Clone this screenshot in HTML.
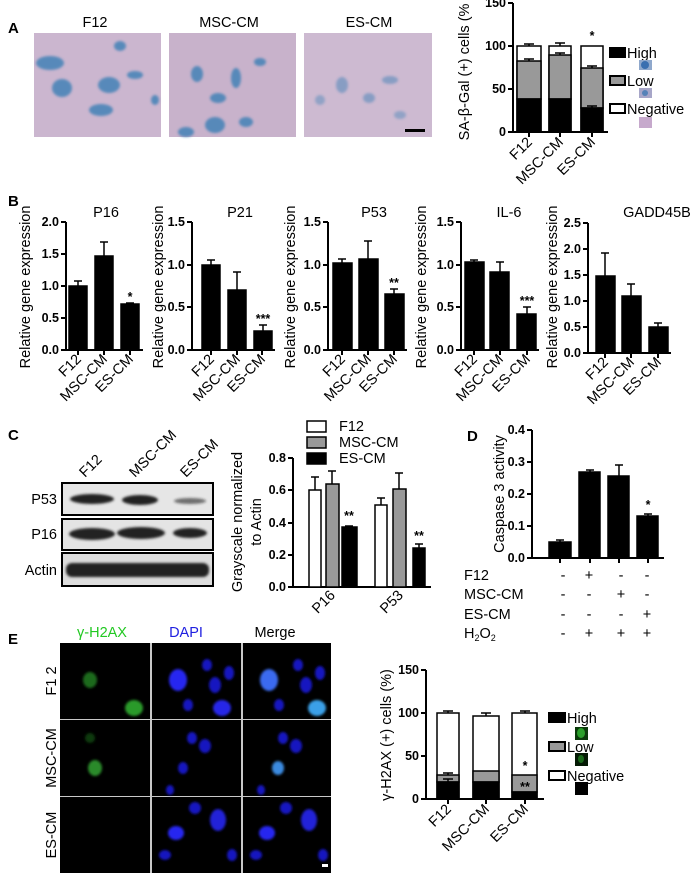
<!DOCTYPE html>
<html><head><meta charset="utf-8"><style>
body{margin:0;background:#fff}
svg{display:block;font-family:"Liberation Sans",Arial,sans-serif}
.t{font-size:12.5px;font-weight:bold}
.l{font-size:14.5px}
.p{font-size:15px;font-weight:bold}
</style></head><body>
<svg width="692" height="873" viewBox="0 0 692 873" xmlns="http://www.w3.org/2000/svg">
<defs>
<filter id="bl"><feGaussianBlur stdDeviation="1.2"/></filter>
</defs>
<!-- Panel A -->
<text class="p" x="8" y="33">A</text>
<text class="l" x="95" y="27" text-anchor="middle">F12</text>
<text class="l" x="229" y="27" text-anchor="middle">MSC-CM</text>
<text class="l" x="369" y="27" text-anchor="middle">ES-CM</text>
<rect x="34" y="33" width="127" height="104" fill="#cbb6cf"/>
<rect x="169" y="33" width="127" height="104" fill="#c8b2cb"/>
<rect x="304" y="33" width="128" height="104" fill="#cdbad1"/>
<g filter="url(#bl)" fill="#3a7fb5" opacity="0.8">
<ellipse cx="50" cy="63" rx="14" ry="7"/><ellipse cx="62" cy="88" rx="10" ry="9"/><ellipse cx="109" cy="85" rx="11" ry="8"/><ellipse cx="120" cy="46" rx="6" ry="5"/><ellipse cx="101" cy="110" rx="12" ry="6"/><ellipse cx="135" cy="75" rx="8" ry="4"/><ellipse cx="155" cy="100" rx="4" ry="5"/>
<ellipse cx="197" cy="74" rx="6" ry="8"/><ellipse cx="218" cy="98" rx="8" ry="5"/><ellipse cx="236" cy="78" rx="5" ry="10"/><ellipse cx="215" cy="125" rx="10" ry="8"/><ellipse cx="186" cy="132" rx="8" ry="5"/><ellipse cx="260" cy="62" rx="6" ry="4"/><ellipse cx="246" cy="122" rx="7" ry="5"/>
<ellipse cx="342" cy="85" rx="6" ry="8" opacity="0.6"/><ellipse cx="369" cy="98" rx="6" ry="5" opacity="0.6"/><ellipse cx="390" cy="80" rx="8" ry="4" opacity="0.6"/><ellipse cx="320" cy="100" rx="5" ry="5" opacity="0.5"/><ellipse cx="400" cy="115" rx="6" ry="4" opacity="0.5"/>
</g>
<rect x="405" y="129" width="20" height="3" fill="#000"/>
<!-- A chart -->
<g stroke="#000" stroke-width="2" fill="none">
<path d="M513 3V132H608"/>
<path d="M508 3H513M508 46H513M508 89H513M508 132H513M529 132v5M560 132v5M592 132v5"/>
</g>
<g class="t" text-anchor="end"><text x="506" y="7">150</text><text x="506" y="50">100</text><text x="506" y="93">50</text><text x="506" y="136">0</text></g>
<text class="l" transform="translate(469,72) rotate(-90)" text-anchor="middle">SA-β-Gal (+) cells (%</text>
<g stroke="#000" stroke-width="1.5">
<rect x="517" y="46" width="24" height="86" fill="#fff"/><rect x="517" y="61" width="24" height="38" fill="#999"/><rect x="517" y="99" width="24" height="33" fill="#000"/>
<rect x="549" y="46" width="22" height="86" fill="#fff"/><rect x="549" y="55" width="22" height="44" fill="#999"/><rect x="549" y="99" width="22" height="33" fill="#000"/>
<rect x="581" y="46" width="22" height="86" fill="#fff"/><rect x="581" y="68" width="22" height="40" fill="#999"/><rect x="581" y="108" width="22" height="24" fill="#000"/>
<path d="M529 44v2M524 44h10M560 43v3M555 43h10M529 59v2M524 59h10M560 53v2M555 53h10M592 66v2M587 66h10M592 106v2M587 106h10" fill="none"/>
</g>
<text class="t" x="592" y="40" text-anchor="middle">*</text>
<g stroke="#000" stroke-width="2"><rect x="610" y="48" width="15" height="9" fill="#000"/><rect x="610" y="76" width="15" height="9" fill="#999"/><rect x="610" y="104" width="15" height="9" fill="#fff"/></g>
<g class="l"><text x="627" y="58">High</text><text x="627" y="86">Low</text><text x="627" y="114">Negative</text></g>
<rect x="639" y="60" width="13" height="10" fill="#8fa8cc"/><circle cx="645" cy="65" r="4" fill="#3a6fb0"/>
<rect x="639" y="88" width="13" height="10" fill="#a7a6c8"/><circle cx="645" cy="93" r="3" fill="#5582b8"/>
<rect x="639" y="117" width="13" height="11" fill="#c6a9cc"/>
<g class="l" text-anchor="end">
<text transform="translate(533,143) rotate(-45)">F12</text>
<text transform="translate(564,143) rotate(-45)">MSC-CM</text>
<text transform="translate(596,143) rotate(-45)">ES-CM</text>
</g>
<!-- Panel B -->
<text class="p" x="8" y="206">B</text>
<g class="l" text-anchor="middle"><text x="106" y="217">P16</text><text x="240" y="217">P21</text><text x="374" y="217">P53</text><text x="509" y="217">IL-6</text><text x="657" y="217">GADD45B</text></g>
<g stroke="#000" stroke-width="2" fill="none">
<path d="M66 222V350H143M61 222h5M61 254h5M61 286h5M61 318h5M61 350h5M78 350v5M104 350v5M130 350v5"/>
<path d="M192 222V350H275M187 222h5M187 265h5M187 307h5M187 350h5M211 350v5M237 350v5M262 350v5"/>
<path d="M328 222V350H407M323 222h5M323 265h5M323 307h5M323 350h5M342 350v5M368 350v5M394 350v5"/>
<path d="M461 222V350H539M456 222h5M456 265h5M456 307h5M456 350h5M474 350v5M500 350v5M527 350v5"/>
<path d="M588 223V353H671M583 223h5M583 249h5M583 275h5M583 301h5M583 327h5M583 353h5M605 353v5M631 353v5M658 353v5"/>
</g>
<g class="t" text-anchor="end">
<text x="59" y="226">2.0</text><text x="59" y="258">1.5</text><text x="59" y="290">1.0</text><text x="59" y="322">0.5</text><text x="59" y="354">0.0</text>
<text x="185" y="226">1.5</text><text x="185" y="269">1.0</text><text x="185" y="311">0.5</text><text x="185" y="354">0.0</text>
<text x="321" y="226">1.5</text><text x="321" y="269">1.0</text><text x="321" y="311">0.5</text><text x="321" y="354">0.0</text>
<text x="454" y="226">1.5</text><text x="454" y="269">1.0</text><text x="454" y="311">0.5</text><text x="454" y="354">0.0</text>
<text x="581" y="227">2.5</text><text x="581" y="253">2.0</text><text x="581" y="279">1.5</text><text x="581" y="305">1.0</text><text x="581" y="331">0.5</text><text x="581" y="357">0.0</text>
</g>
<g class="l" text-anchor="middle">
<text transform="translate(30,287) rotate(-90)">Relative gene expression</text>
<text transform="translate(163,287) rotate(-90)">Relative gene expression</text>
<text transform="translate(295,287) rotate(-90)">Relative gene expression</text>
<text transform="translate(426,287) rotate(-90)">Relative gene expression</text>
<text transform="translate(557,287) rotate(-90)">Relative gene expression</text>
</g>
<g fill="#000" stroke="#000" stroke-width="1.5">
<rect x="69" y="286" width="18" height="64"/><rect x="95" y="256" width="18" height="94"/><rect x="121" y="304" width="18" height="46"/>
<path d="M78 286v-5M74 281h8M104 256v-14M100 242h8M130 304v-1M126 303h8"/>
<rect x="202" y="265" width="18" height="85"/><rect x="228" y="290" width="18" height="60"/><rect x="254" y="331" width="18" height="19"/>
<path d="M211 265v-5M207 260h8M237 290v-18M233 272h8M263 331v-6M259 325h8"/>
<rect x="333" y="263" width="19" height="87"/><rect x="359" y="259" width="19" height="91"/><rect x="385" y="294" width="19" height="56"/>
<path d="M342 263v-4M338 259h8M368 259v-18M364 241h8M394 294v-5M390 289h8"/>
<rect x="465" y="262" width="19" height="88"/><rect x="490" y="272" width="19" height="78"/><rect x="517" y="314" width="19" height="36"/>
<path d="M474 262v-2M470 260h8M500 272v-10M496 262h8M527 314v-7M523 307h8"/>
<rect x="596" y="276" width="19" height="77"/><rect x="622" y="296" width="19" height="57"/><rect x="649" y="327" width="19" height="26"/>
<path d="M605 276v-23M601 253h8M631 296v-12M627 284h8M658 327v-4M654 323h8"/>
</g>
<g class="t" text-anchor="middle"><text x="130" y="301">*</text><text x="263" y="323">***</text><text x="394" y="287">**</text><text x="527" y="305">***</text></g>
<g class="l" text-anchor="end">
<text transform="translate(82,360) rotate(-45)">F12</text><text transform="translate(108,360) rotate(-45)">MSC-CM</text><text transform="translate(134,360) rotate(-45)">ES-CM</text>
<text transform="translate(215,360) rotate(-45)">F12</text><text transform="translate(241,360) rotate(-45)">MSC-CM</text><text transform="translate(266,360) rotate(-45)">ES-CM</text>
<text transform="translate(346,360) rotate(-45)">F12</text><text transform="translate(372,360) rotate(-45)">MSC-CM</text><text transform="translate(398,360) rotate(-45)">ES-CM</text>
<text transform="translate(478,360) rotate(-45)">F12</text><text transform="translate(504,360) rotate(-45)">MSC-CM</text><text transform="translate(531,360) rotate(-45)">ES-CM</text>
<text transform="translate(609,363) rotate(-45)">F12</text><text transform="translate(635,363) rotate(-45)">MSC-CM</text><text transform="translate(662,363) rotate(-45)">ES-CM</text>
</g>
<!-- Panel C -->
<text class="p" x="8" y="440">C</text>
<g class="l"><text transform="translate(85,478) rotate(-45)">F12</text><text transform="translate(135,478) rotate(-45)">MSC-CM</text><text transform="translate(186,478) rotate(-45)">ES-CM</text></g>
<g class="l" text-anchor="end"><text x="57" y="504">P53</text><text x="57" y="539">P16</text><text x="57" y="575">Actin</text></g>
<g stroke="#000" stroke-width="2"><rect x="62" y="483" width="151" height="32" fill="#e6e6e6"/><rect x="62" y="519" width="151" height="31" fill="#e4e4e4"/><rect x="62" y="553" width="151" height="33" fill="#ddd"/></g>
<g filter="url(#bl)" fill="#222">
<ellipse cx="92" cy="499" rx="22" ry="5"/><ellipse cx="140" cy="500" rx="18" ry="5"/><ellipse cx="190" cy="501" rx="16" ry="3" opacity="0.6"/>
<ellipse cx="92" cy="534" rx="23" ry="6"/><ellipse cx="141" cy="533" rx="24" ry="6"/><ellipse cx="190" cy="533" rx="17" ry="5"/>
<rect x="66" y="563" width="143" height="14" rx="6"/>
</g>
<g stroke="#000" stroke-width="2" fill="none"><path d="M293 458V587H431M288 458h5M288 490h5M288 523h5M288 555h5M288 587h5"/></g>
<g class="t" text-anchor="end"><text x="286" y="462">0.8</text><text x="286" y="494">0.6</text><text x="286" y="527">0.4</text><text x="286" y="559">0.2</text><text x="286" y="591">0.0</text></g>
<text class="l" transform="translate(242,522) rotate(-90)" text-anchor="middle">Grayscale normalized</text>
<text class="l" transform="translate(261,522) rotate(-90)" text-anchor="middle">to Actin</text>
<g stroke="#000" stroke-width="1.5">
<rect x="309" y="490" width="12" height="97" fill="#fff"/><rect x="326" y="484" width="13" height="103" fill="#999"/><rect x="342" y="527" width="15" height="60" fill="#000"/>
<rect x="375" y="505" width="12" height="82" fill="#fff"/><rect x="393" y="489" width="13" height="98" fill="#999"/><rect x="413" y="548" width="12" height="39" fill="#000"/>
<path d="M315 490v-13M311 477h8M332 484v-13M328 471h8M349 527v-1M345 526h8M381 505v-7M377 498h8M399 489v-16M395 473h8M419 548v-4M415 544h8" fill="none"/>
</g>
<g class="t" text-anchor="middle"><text x="349" y="520">**</text><text x="419" y="540">**</text></g>
<g class="l" text-anchor="end"><text transform="translate(336,596) rotate(-45)">P16</text><text transform="translate(404,596) rotate(-45)">P53</text></g>
<g stroke="#000" stroke-width="1.5"><rect x="307" y="421" width="19" height="11" fill="#fff"/><rect x="307" y="437" width="19" height="11" fill="#999"/><rect x="307" y="453" width="19" height="11" fill="#000"/></g>
<g class="l"><text x="339" y="431">F12</text><text x="339" y="447">MSC-CM</text><text x="339" y="463">ES-CM</text></g>
<!-- Panel D -->
<text class="p" x="467" y="441">D</text>
<g stroke="#000" stroke-width="2" fill="none"><path d="M532 430V558H664M527 430h5M527 462h5M527 494h5M527 526h5M527 558h5M560 558v5M590 558v5M619 558v5M648 558v5"/></g>
<g class="t" text-anchor="end"><text x="525" y="434">0.4</text><text x="525" y="466">0.3</text><text x="525" y="498">0.2</text><text x="525" y="530">0.1</text><text x="525" y="562">0.0</text></g>
<text class="l" transform="translate(504,494) rotate(-90)" text-anchor="middle">Caspase 3 activity</text>
<g fill="#000" stroke="#000" stroke-width="1.5">
<rect x="549" y="542" width="22" height="16"/><rect x="579" y="472" width="21" height="86"/><rect x="608" y="476" width="21" height="82"/><rect x="637" y="516" width="21" height="42"/>
<path d="M560 542v-2M556 540h8M590 472v-2M586 470h8M619 476v-11M615 465h8M648 516v-2M644 514h8"/>
</g>
<text class="t" x="648" y="509" text-anchor="middle">*</text>
<g class="l"><text x="464" y="580">F12</text><text x="464" y="599">MSC-CM</text><text x="464" y="619">ES-CM</text><text x="464" y="638">H<tspan font-size="9" dy="3">2</tspan><tspan dy="-3">O</tspan><tspan font-size="9" dy="3">2</tspan></text></g>
<g class="l" text-anchor="middle">
<text x="563" y="580">-</text><text x="589" y="580">+</text><text x="621" y="580">-</text><text x="647" y="580">-</text>
<text x="563" y="599">-</text><text x="589" y="599">-</text><text x="621" y="599">+</text><text x="647" y="599">-</text>
<text x="563" y="619">-</text><text x="589" y="619">-</text><text x="621" y="619">-</text><text x="647" y="619">+</text>
<text x="563" y="638">-</text><text x="589" y="638">+</text><text x="621" y="638">+</text><text x="647" y="638">+</text>
</g>
<!-- Panel E -->
<text class="p" x="8" y="644">E</text>
<g class="l" text-anchor="middle"><text x="102" y="637" fill="#22c822">γ-H2AX</text><text x="186" y="637" fill="#2020e0">DAPI</text><text x="275" y="637">Merge</text></g>
<rect x="60" y="643" width="271" height="230" fill="#c8c8c8"/>
<g fill="#000">
<rect x="60" y="643" width="90" height="76"/><rect x="152" y="643" width="89" height="76"/><rect x="243" y="643" width="88" height="76"/>
<rect x="60" y="720" width="90" height="76"/><rect x="152" y="720" width="89" height="76"/><rect x="243" y="720" width="88" height="76"/>
<rect x="60" y="797" width="90" height="76"/><rect x="152" y="797" width="89" height="76"/><rect x="243" y="797" width="88" height="76"/>
</g>
<g filter="url(#bl)">
<g fill="#1a6a1a"><ellipse cx="90" cy="680" rx="7" ry="8"/><ellipse cx="134" cy="708" rx="9" ry="8" fill="#2a9a2a"/><ellipse cx="95" cy="768" rx="7" ry="8" fill="#2a8a2a"/><ellipse cx="90" cy="738" rx="5" ry="5" fill="#0e3a0e"/></g>
<g fill="#1818c0"><ellipse cx="178" cy="680" rx="9" ry="11" fill="#2828f0"/><ellipse cx="207" cy="665" rx="5" ry="6"/><ellipse cx="215" cy="685" rx="6" ry="8"/><ellipse cx="222" cy="708" rx="9" ry="8" fill="#2828e8"/><ellipse cx="188" cy="705" rx="5" ry="6"/><ellipse cx="229" cy="673" rx="5" ry="7"/>
<ellipse cx="192" cy="738" rx="5" ry="6"/><ellipse cx="205" cy="746" rx="6" ry="7"/><ellipse cx="183" cy="768" rx="5" ry="6"/><ellipse cx="170" cy="790" rx="4" ry="5"/>
<ellipse cx="195" cy="808" rx="6" ry="6"/><ellipse cx="218" cy="820" rx="8" ry="11" fill="#2020d8"/><ellipse cx="176" cy="833" rx="8" ry="7" fill="#2828f0"/><ellipse cx="165" cy="855" rx="6" ry="5"/><ellipse cx="232" cy="855" rx="5" ry="6"/></g>
<g fill="#1818c0"><ellipse cx="269" cy="680" rx="9" ry="11" fill="#3a6af0"/><ellipse cx="298" cy="665" rx="5" ry="6"/><ellipse cx="306" cy="685" rx="6" ry="8"/><ellipse cx="317" cy="708" rx="9" ry="8" fill="#3aa0e8"/><ellipse cx="279" cy="705" rx="5" ry="6"/><ellipse cx="320" cy="673" rx="5" ry="7"/>
<ellipse cx="283" cy="738" rx="5" ry="6"/><ellipse cx="296" cy="746" rx="6" ry="7"/><ellipse cx="278" cy="768" rx="6" ry="7" fill="#3a8ae0"/><ellipse cx="261" cy="790" rx="4" ry="5"/>
<ellipse cx="286" cy="808" rx="6" ry="6"/><ellipse cx="309" cy="820" rx="8" ry="11" fill="#2020d8"/><ellipse cx="267" cy="833" rx="8" ry="7" fill="#2828f0"/><ellipse cx="256" cy="855" rx="6" ry="5"/><ellipse cx="323" cy="855" rx="5" ry="6"/></g>
</g>
<rect x="322" y="864" width="6" height="3" fill="#fff"/>
<g class="l" text-anchor="middle"><text transform="translate(56,681) rotate(-90)">F1 2</text><text transform="translate(56,758) rotate(-90)">MSC-CM</text><text transform="translate(56,835) rotate(-90)">ES-CM</text></g>
<g stroke="#000" stroke-width="2" fill="none"><path d="M426 670V799H544M421 670h5M421 713h5M421 756h5M421 799h5M448 799v5M486 799v5M525 799v5"/></g>
<g class="t" text-anchor="end"><text x="419" y="674">150</text><text x="419" y="717">100</text><text x="419" y="760">50</text><text x="419" y="803">0</text></g>
<text class="l" transform="translate(391,735) rotate(-90)" text-anchor="middle">γ-H2AX (+) cells (%)</text>
<g stroke="#000" stroke-width="1.5">
<rect x="437" y="713" width="22" height="86" fill="#fff"/><rect x="437" y="775" width="22" height="7" fill="#999"/><rect x="437" y="782" width="22" height="17" fill="#000"/>
<rect x="473" y="716" width="26" height="83" fill="#fff"/><rect x="473" y="771" width="26" height="11" fill="#999"/><rect x="473" y="782" width="26" height="17" fill="#000"/>
<rect x="512" y="713" width="25" height="86" fill="#fff"/><rect x="512" y="775" width="25" height="17" fill="#999"/><rect x="512" y="792" width="25" height="7" fill="#000"/>
<path d="M448 713v-2M443 711h10M486 716v-3M481 713h10M525 713v-2M520 711h10M448 775v-2M443 773h10M448 782v-3M443 779h10" fill="none"/>
</g>
<g class="t" text-anchor="middle"><text x="525" y="770">*</text><text x="525" y="791">**</text></g>
<g stroke="#000" stroke-width="2"><rect x="549" y="713" width="16" height="9" fill="#000"/><rect x="549" y="742" width="16" height="9" fill="#999"/><rect x="549" y="771" width="16" height="9" fill="#fff"/></g>
<g class="l"><text x="567" y="723">High</text><text x="567" y="752">Low</text><text x="567" y="781">Negative</text></g>
<rect x="575" y="727" width="13" height="13" fill="#0a3a0a"/><ellipse cx="581" cy="733" rx="4" ry="5" fill="#2aa02a"/>
<rect x="575" y="753" width="13" height="13" fill="#051a05"/><ellipse cx="581" cy="759" rx="3" ry="4" fill="#1a6a1a"/>
<rect x="575" y="782" width="13" height="13" fill="#000"/>
<g class="l" text-anchor="end"><text transform="translate(452,810) rotate(-45)">F12</text><text transform="translate(490,810) rotate(-45)">MSC-CM</text><text transform="translate(529,810) rotate(-45)">ES-CM</text></g>
</svg>
</body></html>
